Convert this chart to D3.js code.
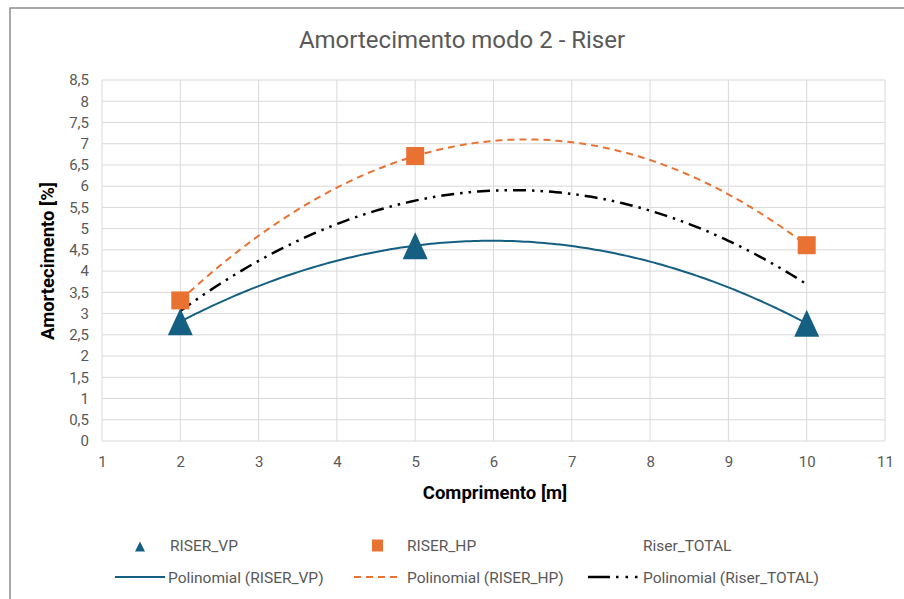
<!DOCTYPE html>
<html><head><meta charset="utf-8">
<script src="https://cdn.jsdelivr.net/npm/d3@7"></script>
<style>body{margin:0;background:#fff}svg{display:block}text{font-family:Roboto,"Liberation Sans",sans-serif}</style>
</head><body><svg id="c" width="904" height="599"></svg>
<script>
const xs = [2, 5, 10];
const riserVP = [2.81, 4.60, 2.77];
const riserHP = [3.31, 6.71, 4.61];
const riserTotal = [3.06, 5.66, 3.69];
const xTicks = [1,2,3,4,5,6,7,8,9,10,11];
const yTicks = d3.range(0, 8.51, 0.5);

const svg = d3.select("#c");
const W = 904, H = 599;
svg.append("rect").attr("x",10).attr("y",8).attr("width",W).attr("height",H).attr("fill","#fff").attr("stroke","#8c8c8c").attr("stroke-width",1.5);

const m = {l:102, r:885, t:80, b:441};
const x = d3.scaleLinear().domain([1,11]).range([m.l,m.r]);
const y = d3.scaleLinear().domain([0,8.5]).range([m.b,m.t]);

// gridlines
const g = svg.append("g");
g.selectAll("line.h").data(yTicks).join("line").attr("x1",m.l).attr("x2",m.r)
  .attr("y1",d=>y(d)).attr("y2",d=>y(d)).attr("stroke","#d9d9d9").attr("stroke-width",1);
g.selectAll("line.v").data(xTicks).join("line").attr("y1",m.t).attr("y2",m.b)
  .attr("x1",d=>x(d)).attr("x2",d=>x(d)).attr("stroke","#d9d9d9").attr("stroke-width",1);

const fmt = d => String(d).replace(".", ",");
const xa = svg.append("g").attr("transform",`translate(0,${m.b})`)
  .call(d3.axisBottom(x).tickValues(xTicks).tickSize(0).tickPadding(15).tickFormat(fmt));
const ya = svg.append("g").attr("transform",`translate(${m.l},0)`)
  .call(d3.axisLeft(y).tickValues(yTicks).tickSize(0).tickPadding(13).tickFormat(fmt));
[xa,ya].forEach(a=>{a.select(".domain").remove();a.selectAll("text").attr("fill","#595959").style("font-size","15px").style("font-family","Roboto");});

// titles
svg.append("text").attr("x",462).attr("y",48).attr("text-anchor","middle").attr("fill","#595959")
  .style("font-size","24px").text("Amortecimento modo 2 - Riser");
svg.append("text").attr("x",495).attr("y",499).attr("text-anchor","middle").attr("fill","#000")
  .style("font-size","18.5px").style("font-weight","bold").text("Comprimento [m]");
svg.append("text").attr("transform","translate(54,261) rotate(-90)").attr("text-anchor","middle").attr("fill","#000")
  .style("font-size","18.5px").style("font-weight","bold").text("Amortecimento [%]");

// quadratic through 3 points (polynomial trendline order 2)
function quad(xv, yv){
  return t => {
    let s = 0;
    for (let i=0;i<3;i++){
      let p = yv[i];
      for (let j=0;j<3;j++) if (j!==i) p *= (t - xv[j])/(xv[i]-xv[j]);
      s += p;
    }
    return s;
  };
}
const samples = d3.range(xs[0], xs[2]+0.0001, 0.05);
const line = d3.line().x(d=>x(d[0])).y(d=>y(d[1])).curve(d3.curveLinear);
const blue = "#156082", orange = "#e97132";
const dashTotal = "13,6,2.5,6,2.5,6";
function trend(vals, color, dash, width){
  const f = quad(xs, vals);
  svg.append("path").datum(samples.map(t=>[t,f(t)])).attr("d",line)
    .attr("fill","none").attr("stroke",color).attr("stroke-width",width)
    .attr("stroke-dasharray",dash).attr("stroke-linecap", dash ? "butt" : "round");
}
trend(riserVP, blue, null, 2);
trend(riserHP, orange, "7,5", 2);
trend(riserTotal, "#000", dashTotal, 2.5);

// markers
const triPath = (w,h) => `M0,${-h/2}L${w/2},${h/2}L${-w/2},${h/2}Z`;
svg.append("g").selectAll("path").data(xs.map((d,i)=>[d,riserVP[i]])).join("path")
  .attr("d",triPath(25,27)).attr("transform",d=>`translate(${x(d[0])},${y(d[1])})`).attr("fill",blue);
svg.append("g").selectAll("rect").data(xs.map((d,i)=>[d,riserHP[i]])).join("rect")
  .attr("x",d=>x(d[0])-9).attr("y",d=>y(d[1])-9).attr("width",18).attr("height",18).attr("fill",orange);

// legend
const lg = svg.append("g").style("font-size","15.5px");
lg.append("path").attr("d",triPath(10,10)).attr("transform","translate(140,546.5)").attr("fill",blue);
lg.append("text").attr("x",170).attr("y",551).attr("fill","#595959").text("RISER_VP");
lg.append("rect").attr("x",372).attr("y",539.5).attr("width",11).attr("height",12).attr("fill",orange);
lg.append("text").attr("x",407).attr("y",551).attr("fill","#595959").text("RISER_HP");
lg.append("text").attr("x",643).attr("y",551).attr("fill","#595959").text("Riser_TOTAL");

lg.append("line").attr("x1",115).attr("x2",165).attr("y1",577).attr("y2",577).attr("stroke",blue).attr("stroke-width",2);
lg.append("text").attr("x",168).attr("y",583).attr("fill","#595959").text("Polinomial (RISER_VP)");
lg.append("line").attr("x1",354).attr("x2",402).attr("y1",577).attr("y2",577).attr("stroke",orange).attr("stroke-width",2).attr("stroke-dasharray","7,5");
lg.append("text").attr("x",407).attr("y",583).attr("fill","#595959").text("Polinomial (RISER_HP)");
lg.append("line").attr("x1",588).attr("x2",640).attr("y1",577).attr("y2",577).attr("stroke","#000").attr("stroke-width",2.5).attr("stroke-dasharray","22,6,2.5,7,2.5,7,2.5,7");
lg.append("text").attr("x",643).attr("y",583).attr("fill","#595959").text("Polinomial (Riser_TOTAL)");
</script></body></html>
